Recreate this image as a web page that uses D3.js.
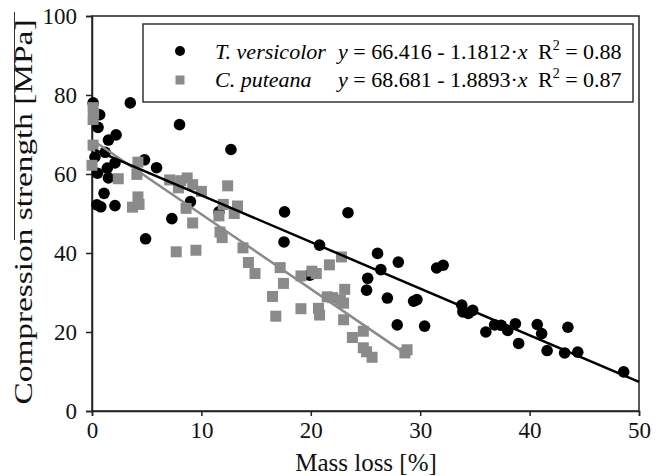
<!DOCTYPE html>
<html>
<head>
<meta charset="utf-8">
<script src="https://d3js.org/d3.v7.min.js"></script>
<style>
body { margin: 0; background: #fff; }
text { font-family: "Liberation Serif", "Times New Roman", serif; }
</style>
</head>
<body>
<script>
var w = 661;
var h = 476;

// T. versicolor (black circles)
var tvMass = [0.1, 0.7, 0.55, 2.2, 1.5, 1.2, 0.27, 2.1, 1.4, 0.5, 1.5, 1.1, 0.45, 0.8, 2.1,
              3.5, 4.8, 5.9, 4.9, 8.0, 7.3, 9.0, 11.6, 12.7, 17.6, 17.55, 19.9, 20.8, 23.4,
              25.1, 25.2, 26.1, 26.4, 27.0, 28.0, 27.9, 29.4, 29.7, 30.4, 31.5, 32.1,
              33.8, 33.9, 34.4, 34.8, 36.0, 36.8, 37.4, 38.0, 38.7, 39.0, 40.7, 41.1,
              41.6, 43.2, 43.5, 44.4, 48.6];
var tvStrength = [78.0, 75.0, 71.8, 69.9, 68.6, 65.5, 64.3, 62.8, 61.5, 60.2, 59.0, 55.1, 52.2, 51.7, 52.0,
                  78.0, 63.6, 61.6, 43.6, 72.5, 48.7, 53.0, 50.4, 66.2, 50.4, 42.8, 34.4, 42.0, 50.2,
                  30.6, 33.6, 39.9, 35.8, 28.6, 37.7, 21.8, 27.8, 28.2, 21.5, 36.2, 36.9,
                  26.8, 25.1, 24.7, 25.5, 20.0, 21.8, 21.7, 20.4, 22.1, 17.1, 21.9, 19.6,
                  15.3, 14.7, 21.2, 14.9, 9.9];

// C. puteana (grey squares)
var cpMass = [0.1, 0.15, 0.1, 0.1, 0.0, 2.4, 4.2, 4.1, 4.2, 3.7, 4.3, 7.1, 7.9, 8.1, 7.7, 8.7, 9.2,
              10.0, 8.6, 9.2, 9.5, 11.7, 11.9, 11.6, 12.0, 12.4, 13.3, 13.0, 13.8, 14.3, 14.9,
              16.5, 16.8, 17.2, 17.5, 19.1, 19.1, 20.1, 20.5, 20.7, 20.8, 21.7, 21.5, 22.0,
              22.7, 23.0, 23.1, 22.8, 23.0, 23.8, 24.8, 24.8, 25.1, 25.6, 28.6, 28.8];
var cpStrength = [76.8, 75.3, 73.8, 67.3, 62.2, 58.8, 63.0, 59.9, 54.2, 51.6, 52.3, 58.5, 56.5, 58.3, 40.3, 59.0, 57.3,
                  55.6, 51.3, 47.6, 40.7, 45.3, 43.9, 49.4, 52.3, 57.0, 51.9, 50.0, 41.3, 37.6, 34.8,
                  29.0, 24.0, 36.3, 32.3, 34.2, 25.9, 35.4, 34.8, 26.0, 24.3, 37.0, 28.9, 28.7,
                  28.1, 27.3, 30.8, 39.0, 23.1, 18.6, 20.2, 16.0, 15.0, 13.6, 14.7, 15.5];

// regression lines: [intercept, slope, x from, x to]
var tvFit = [66.416, -1.1812, 0.3, 50];
var cpFit = [68.681, -1.8893, 0.2, 28.7];

var xTicks = [0, 10, 20, 30, 40, 50];
var yTicks = [0, 20, 40, 60, 80, 100];

var tvData = tvMass.map(function(d, i) { return [d, tvStrength[i]]; });
var cpData = cpMass.map(function(d, i) { return [d, cpStrength[i]]; });

var xScale = d3.scaleLinear()
               .domain([0, 50])
               .range([92, 639]);

var yScale = d3.scaleLinear()
               .domain([0, 100])
               .range([411, 16]);

var svg = d3.select("body")
            .append("svg")
            .attr("width", w)
            .attr("height", h);

var xAxis = d3.axisBottom(xScale)
              .tickValues(xTicks)
              .tickSize(5)
              .tickPadding(6)
              .tickFormat(d3.format("d"));

var yAxis = d3.axisLeft(yScale)
              .tickValues(yTicks)
              .tickSize(6)
              .tickPadding(9)
              .tickFormat(d3.format("d"));

// plot frame (top + right)
svg.append("rect")
   .attr("x", xScale(0))
   .attr("y", yScale(100))
   .attr("width", xScale(50) - xScale(0))
   .attr("height", yScale(0) - yScale(100))
   .attr("fill", "none")
   .attr("stroke", "#222")
   .attr("stroke-width", 1.5);

var gx = svg.append("g")
   .attr("class", "x axis")
   .attr("transform", "translate(0," + yScale(0) + ")")
   .call(xAxis);

var gy = svg.append("g")
   .attr("class", "y axis")
   .attr("transform", "translate(" + xScale(0) + ",0)")
   .call(yAxis);

[gx, gy].forEach(function(g) {
    g.select(".domain").attr("stroke", "#222").attr("stroke-width", 1.5);
    g.selectAll(".tick line").attr("stroke", "#222").attr("stroke-width", 1.5);
    g.selectAll(".tick text")
     .attr("fill", "#111")
     .style("font-family", "'Liberation Serif', 'Times New Roman', serif")
     .style("font-size", "23px");
});

// circles first, squares over them
svg.append("g").selectAll("circle")
   .data(tvData)
   .enter()
   .append("circle")
   .attr("cx", function(d) { return xScale(d[0]); })
   .attr("cy", function(d) { return yScale(d[1]); })
   .attr("r", 5.8)
   .attr("fill", "#000");

var sq = 11;
svg.append("g").selectAll("rect")
   .data(cpData)
   .enter()
   .append("rect")
   .attr("x", function(d) { return xScale(d[0]) - sq / 2; })
   .attr("y", function(d) { return yScale(d[1]) - sq / 2; })
   .attr("width", sq)
   .attr("height", sq)
   .attr("fill", "#8a8a8a");

function fitLine(f) {
    return [[f[2], f[0] + f[1] * f[2]], [f[3], f[0] + f[1] * f[3]]];
}

var line = d3.line()
             .x(function(d) { return xScale(d[0]); })
             .y(function(d) { return yScale(d[1]); });

svg.append("path")
   .attr("d", line(fitLine(cpFit)))
   .attr("stroke", "#8a8a8a")
   .attr("stroke-width", 2.5)
   .attr("fill", "none");

svg.append("path")
   .attr("d", line(fitLine(tvFit)))
   .attr("stroke", "#000")
   .attr("stroke-width", 2.5)
   .attr("fill", "none");

// legend
var lg = svg.append("g");
lg.append("rect")
  .attr("x", 143).attr("y", 24)
  .attr("width", 490).attr("height", 78)
  .attr("fill", "#fff")
  .attr("stroke", "#333")
  .attr("stroke-width", 1.5);

lg.append("circle").attr("cx", 180).attr("cy", 51).attr("r", 5).attr("fill", "#000");
lg.append("rect").attr("x", 175.5).attr("y", 75.5).attr("width", 9).attr("height", 9).attr("fill", "#8a8a8a");

var legendRows = [
    {name: "T. versicolor", a: "66.416", b: "1.1812", r2: "0.88", y: 59},
    {name: "C. puteana", a: "68.681", b: "1.8893", r2: "0.87", y: 87}
];

legendRows.forEach(function(r) {
    lg.append("text").attr("x", 215).attr("y", r.y)
      .style("font-size", "22px").style("font-style", "italic")
      .text(r.name);
    var t = lg.append("text").attr("x", 338).attr("y", r.y).style("font-size", "22px");
    t.append("tspan").style("font-style", "italic").text("y");
    t.append("tspan").text(" = " + r.a + " - " + r.b + "\u00b7");
    t.append("tspan").style("font-style", "italic").text("x");
    var t2 = lg.append("text").attr("x", 538).attr("y", r.y).style("font-size", "22px");
    t2.append("tspan").text("R");
    t2.append("tspan").attr("dy", -9).style("font-size", "14px").text("2");
    t2.append("tspan").attr("dy", 9).text(" = " + r.r2);
});

// axis titles
svg.append("text")
   .attr("x", 366).attr("y", 471)
   .attr("text-anchor", "middle")
   .style("font-size", "25px")
   .attr("fill", "#111")
   .text("Mass loss [%]");

svg.append("text")
   .attr("transform", "translate(32,212) rotate(-90)")
   .attr("text-anchor", "middle")
   .style("font-size", "26px")
   .attr("textLength", 385)
   .attr("lengthAdjust", "spacingAndGlyphs")
   .attr("fill", "#111")
   .text("Compression strength [MPa]");

svg.append("line")
   .attr("x1", 14.5).attr("x2", 14.5)
   .attr("y1", 12).attr("y2", 240)
   .attr("stroke", "#333")
   .attr("stroke-width", 1);
</script>
</body>
</html>
